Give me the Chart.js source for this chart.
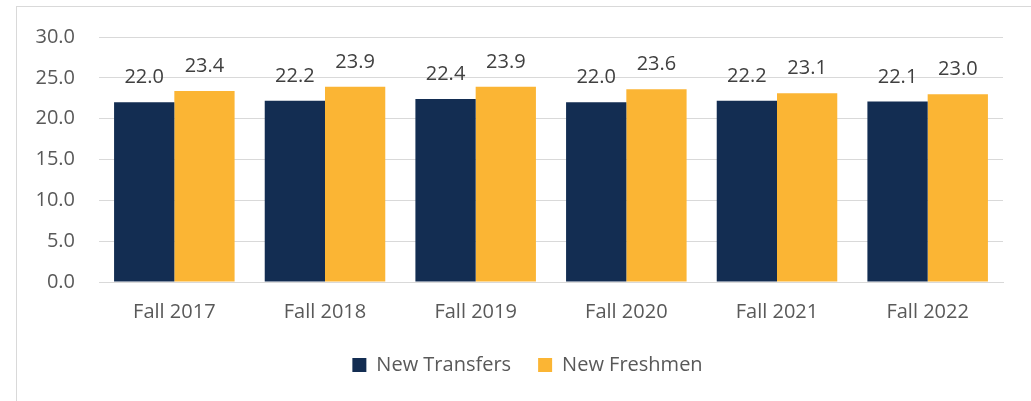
<!DOCTYPE html>
<html>
<head>
<meta charset="utf-8">
<script src="https://cdn.jsdelivr.net/npm/chart.js@4/dist/chart.umd.min.js"></script>
<style>
  html, body { margin: 0; padding: 0; background: #fff; overflow: hidden; }
  #frame { position: absolute; left: 16px; top: 6px; width: 1100px; height: 500px;
           border: 1px solid #d9d9d9; box-sizing: border-box; }
  #chart { position: absolute; left: 0; top: 0; }
</style>
</head>
<body>
<div id="frame"></div>
<canvas id="chart" width="1031" height="401"></canvas>
<script>
// data
const terms = ['Fall 2017', 'Fall 2018', 'Fall 2019', 'Fall 2020', 'Fall 2021', 'Fall 2022'];
const newTransfers = [22.0, 22.2, 22.4, 22.0, 22.2, 22.1];
const newFreshmen = [23.4, 23.9, 23.9, 23.6, 23.1, 23.0];
const yMax = 30;
const yStep = 5;

const FONT = '"Open Sans", "DejaVu Sans", sans-serif';

// draws the value above each bar
const valueLabels = {
  id: 'valueLabels',
  afterDatasetsDraw(chart) {
    const ctx = chart.ctx;
    ctx.save();
    ctx.font = '20px ' + FONT;
    ctx.fillStyle = '#404040';
    ctx.textAlign = 'center';
    ctx.textBaseline = 'alphabetic';
    chart.data.datasets.forEach((ds, i) => {
      chart.getDatasetMeta(i).data.forEach((bar, j) => {
        ctx.fillText(ds.data[j].toFixed(1), bar.x, bar.y - 19);
      });
    });
    ctx.restore();
  }
};

// nudge the legend a bit right, like the original
const legendShift = {
  id: 'legendShift',
  afterLayout(chart) {
    chart.legend.left += 26;
    chart.legend.right += 26;
  }
};

new Chart(document.getElementById('chart'), {
  type: 'bar',
  data: {
    labels: terms,
    datasets: [
      { label: 'New Transfers', data: newTransfers, backgroundColor: '#132d52' },
      { label: 'New Freshmen', data: newFreshmen, backgroundColor: '#fbb534' }
    ]
  },
  options: {
    responsive: false,
    animation: false,
    devicePixelRatio: 1,
    layout: { padding: { top: 37, right: 28, bottom: 16, left: 0 } },
    datasets: { bar: { categoryPercentage: 0.8, barPercentage: 1.0 } },
    scales: {
      x: {
        afterFit(scale) { scale.height -= 14; },
        grid: { display: false, drawTicks: false },
        border: { color: '#d9d9d9', width: 1 },
        ticks: { color: '#595959', font: { family: FONT, size: 20 }, padding: 18, maxRotation: 0 }
      },
      y: {
        min: 0,
        max: yMax,
        afterFit(scale) { scale.width = 99; },
        grid: { color: '#d9d9d9', drawTicks: false },
        border: { display: false },
        ticks: {
          stepSize: yStep,
          padding: 24,
          color: '#595959',
          font: { family: FONT, size: 20 },
          callback: v => v.toFixed(1)
        }
      }
    },
    plugins: {
      tooltip: { enabled: false },
      legend: {
        position: 'bottom',
        labels: {
          boxWidth: 14,
          boxHeight: 14,
          padding: 27,
          color: '#595959',
          font: { family: FONT, size: 20 }
        }
      }
    }
  },
  plugins: [valueLabels, legendShift]
});
</script>
</body>
</html>
